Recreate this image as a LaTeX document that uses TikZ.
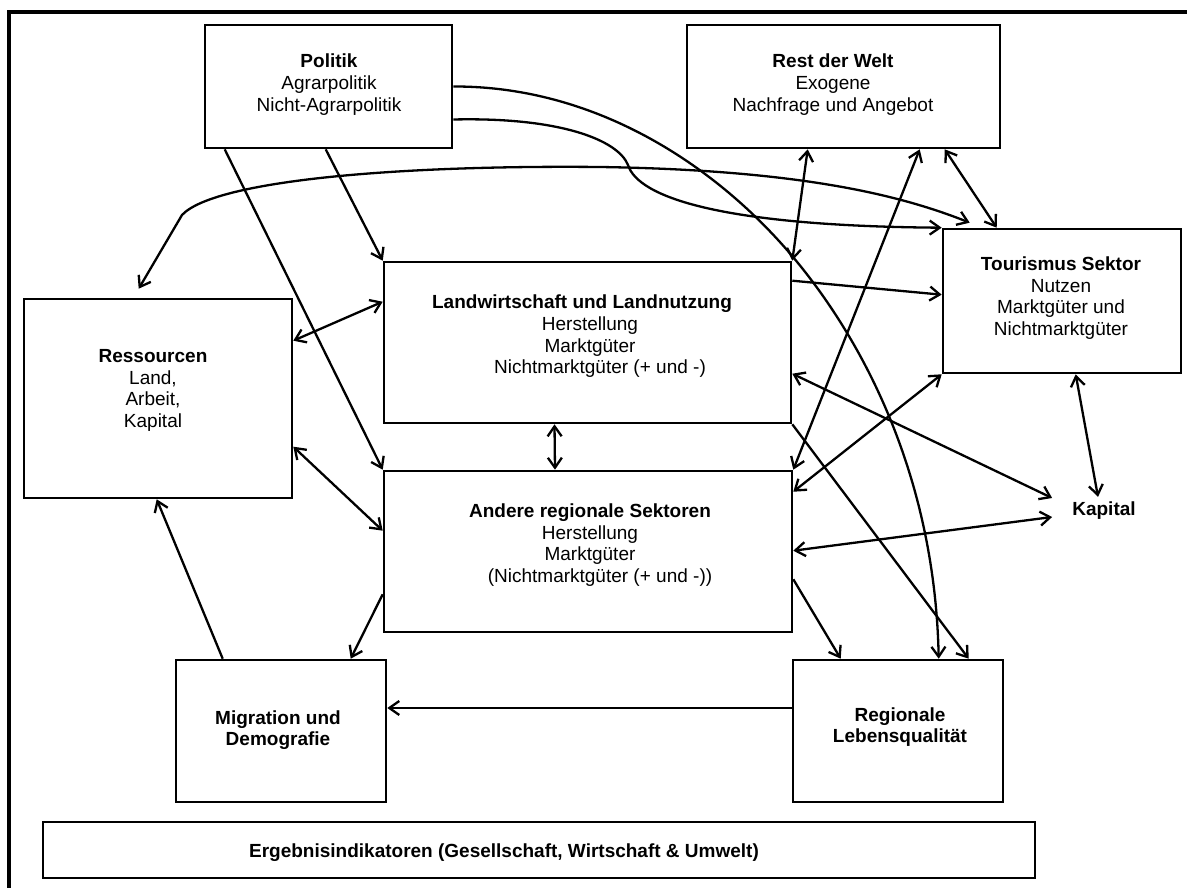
\documentclass[tikz,border=0pt]{standalone}
\usepackage{fontspec}
\setmainfont{Liberation Sans}
\usetikzlibrary{arrows.meta}
\begin{document}
\begin{tikzpicture}[x=1pt,y=-1pt,
  box/.style={draw, line width=2.6pt, inner sep=0pt},
  txt/.style={align=center, inner sep=0pt, font=\fontsize{19pt}{21.7pt}\selectfont},
  con/.style={line width=2.3pt},
  arr/.style={con, -{Straight Barb[length=10pt,width=14pt]}},
  darr/.style={con, {Straight Barb[length=10pt,width=14pt]}-{Straight Barb[length=10pt,width=14pt]}},
  frame/.style={line width=3.5pt}]
\useasboundingbox (0,0) rectangle (1187,888);
% outer frame (top and left edges visible)
\draw[frame] (1195,12) -- (9,12) -- (9,895);

% boxes
\node[box, minimum width=247pt, minimum height=123pt] (politik) at (328.5,86.5) {};
\node[box, minimum width=313pt, minimum height=123pt] (rest) at (843.5,86.5) {};
\node[box, minimum width=238pt, minimum height=144pt] (tourismus) at (1062,301) {};
\node[box, minimum width=268pt, minimum height=199pt] (ressourcen) at (158,398.5) {};
\node[box, minimum width=407pt, minimum height=161pt] (landw) at (587.5,342.5) {};
\node[box, minimum width=408pt, minimum height=161pt] (andere) at (588,551.5) {};
\node[box, minimum width=210pt, minimum height=142pt] (migration) at (281,731) {};
\node[box, minimum width=210pt, minimum height=142pt] (regionale) at (898,731) {};
\node[box, minimum width=992pt, minimum height=56pt] (ergebnis) at (539,850) {};

% texts
\node[txt] (politikT) at (329,84.5) {\textbf{Politik}\\Agrarpolitik\\Nicht-Agrarpolitik};
\node[txt] (restT) at (833,84.5) {\textbf{Rest der Welt}\\Exogene\\Nachfrage und Angebot};
\node[txt] (tourismusT) at (1061,298) {\textbf{Tourismus Sektor}\\Nutzen\\Marktgüter und\\Nichtmarktgüter};
\node[txt] (ressourcenT) at (153,390.5) {\textbf{Ressourcen}\\Land,\\Arbeit,\\Kapital};
\node[txt] (landwT) at (590,336.5) {\textbf{Landwirtschaft und Landnutzung}\hspace*{16pt}\\Herstellung\\Marktgüter\\\hspace*{20pt}Nichtmarktgüter (+ und -)};
\node[txt] (andereT) at (590,545) {\textbf{Andere regionale Sektoren}\\Herstellung\\Marktgüter\\\hspace*{20pt}(Nichtmarktgüter (+ und -))};
\node[txt] (migrationT) at (278,730) {\textbf{Migration und}\\\textbf{Demografie}};
\node[txt] (regionaleT) at (900,727) {\textbf{Regionale}\\\textbf{Lebensqualität}};
\node[txt] (ergebnisT) at (504,853) {\textbf{Ergebnisindikatoren (Gesellschaft, Wirtschaft \& Umwelt)}};
\node[txt, inner xsep=20pt, inner ysep=5pt] (kapital) at (1104,511) {\textbf{Kapital}};

% connectors from Politik
\draw[arr] ([xshift=122pt]politik.south west) -- (landw.north west);
\draw[arr] ([xshift=21pt]politik.south west) -- (andere.north west);
\draw[arr] (politik.east) .. controls (600,86) and (720,170) .. (793,257)
   .. controls (866,344) and (935,480) .. ([xshift=147pt]regionale.north west);
\draw[arr] ([yshift=-33pt]politik.east) .. controls (560,117) and (618,140) .. (628,165)
   .. controls (638,197) and (720,226) .. (tourismus.north west);

% big double curve Ressourcen <-> Tourismus
\draw[darr] ([xshift=116pt,yshift=9pt]ressourcen.north west) -- (182,215)
   .. controls (215,180) and (400,165) .. (600,167)
   .. controls (800,170) and (900,195) .. ([xshift=28pt,yshift=5pt]tourismus.north west);

% Rest der Welt
\draw[darr] ([xshift=122pt]rest.south west) -- (landw.north east);
\draw[darr] ([xshift=234pt]rest.south west) -- (andere.north east);
\draw[darr] ([xshift=259pt]rest.south west) -- ([xshift=55pt]tourismus.north west);

% Landwirtschaft / Andere to Tourismus, Kapital
\draw[arr] ([yshift=-20pt]landw.north east) -- ([yshift=-67pt]tourismus.north west);
\draw[darr] (tourismus.south west) -- ([yshift=-22pt]andere.north east);
\draw[darr] ([yshift=-113pt]landw.north east) -- ([yshift=13pt]kapital.west);
\draw[darr] ([yshift=-81pt]andere.north east) -- ([yshift=-6pt]kapital.west);
\draw[darr] ([xshift=134pt]tourismus.south west) -- ([xshift=-6pt]kapital.north);
\draw[darr] ([xshift=-33pt]landw.south) -- ([xshift=-33pt]andere.north);

% Ressourcen
\draw[darr] ([yshift=-41pt]landw.north west) -- ([yshift=-43pt]ressourcen.north east);
\draw[darr] ([yshift=-149pt]ressourcen.north east) -- ([yshift=-61pt]andere.north west);
\draw[arr] ([xshift=48pt]migration.north west) -- ([xshift=134pt]ressourcen.south west);

% lower part
\draw[arr] ([yshift=39pt]andere.south west) -- ([xshift=176pt]migration.north west);
\draw[arr] ([yshift=54pt]andere.south east) -- ([xshift=49pt]regionale.north west);
\draw[arr] (landw.south east) -- ([xshift=177pt]regionale.north west);
\draw[arr] ([yshift=23pt]regionale.west) -- ([yshift=23pt]migration.east);
\end{tikzpicture}
\end{document}
